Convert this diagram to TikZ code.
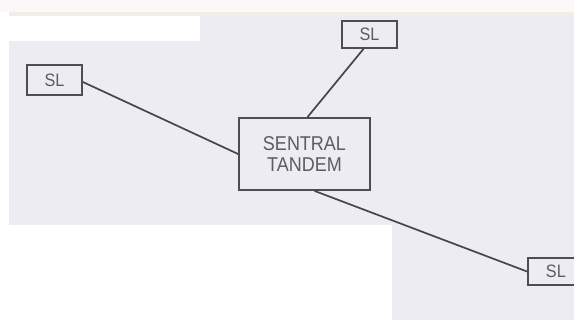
\documentclass[tikz,border=0pt]{standalone}
\usepackage{fontspec}
\setmainfont{Liberation Sans}
\newfontfamily\diagfont[FakeStretch=0.9]{Liberation Sans}
\usetikzlibrary{calc}
\definecolor{paper}{RGB}{237,236,243}
\definecolor{topstrip}{RGB}{252,248,250}
\definecolor{yline}{RGB}{242,238,216}
\definecolor{ink}{RGB}{78,78,82}
\definecolor{txt}{RGB}{92,92,98}
\begin{document}
\begin{tikzpicture}[x=1pt,y=-1pt,
  slbox/.style={draw=ink, line width=1.8pt, fill=paper, text=txt, inner sep=0pt,
    font=\diagfont\fontsize{18}{20}\selectfont},
  bigbox/.style={draw=ink, line width=1.8pt, fill=paper, text=txt, inner sep=0pt,
    align=center, font=\diagfont\fontsize{20}{20.5}\selectfont},
  link/.style={draw=ink!90!black, line width=1.7pt}]
\useasboundingbox (0,0) rectangle (574,320);
\clip (0,0) rectangle (574,320);
% scanned page background
\fill[white] (0,0) rectangle (574,320);
\fill[topstrip] (0,0) rectangle (574,12);
\fill[paper] (9,12) rectangle (574,225);
\fill[paper] (392,225) rectangle (574,320);
\fill[yline] (9,12) rectangle (574,14);
\fill[white] (9,16) rectangle (200,41);
% nodes
\node[bigbox, minimum width=131pt, minimum height=72pt] (tandem) at (304.5,154) {SENTRAL\\TANDEM};
\node[slbox, minimum width=55pt, minimum height=30pt] (slL) at (54.5,80) {SL};
\node[slbox, minimum width=55pt, minimum height=27pt] (slT) at (369.5,34.5) {SL};
\node[slbox, minimum width=56pt, minimum height=27pt, anchor=west] (slB) at (527,271.5) {SL\hspace{11pt}};
% connectors
\draw[link] ($(slL.east)+(0,2)$) -- (tandem.west);
\draw[link] ($(slT.south)+(-6,0)$) -- ($(tandem.north)+(3,0)$);
\draw[link] ($(tandem.south)+(10,0)$) -- (slB.west);
\end{tikzpicture}
\end{document}
